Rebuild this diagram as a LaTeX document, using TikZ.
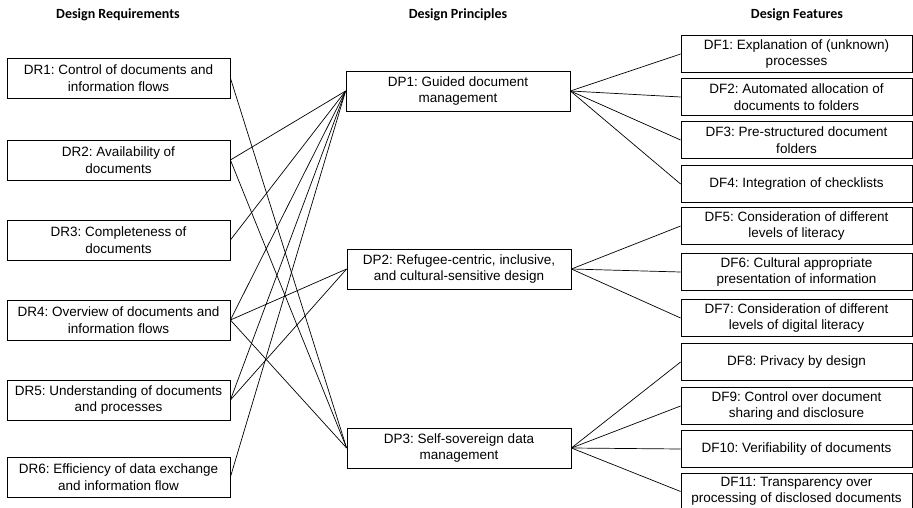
\documentclass[tikz,border=0pt]{standalone}
\usepackage{fontspec}
\setmainfont{Liberation Sans}
\newfontfamily\headfont{Carlito}
\usepackage{tikz}
\frenchspacing

\begin{document}
\begin{tikzpicture}[x=1pt, y=-1pt,
  title/.style={font=\headfont\bfseries\fontsize{14}{14}\selectfont},
  box/.style={rectangle, draw, line width=0.8pt, align=center, inner sep=0pt, font=\fontsize{13.5}{16.5}\selectfont},
  req/.style={box, minimum width=223pt, minimum height=40pt},
  prin/.style={box, minimum width=224pt, minimum height=40pt},
  feat/.style={box, minimum width=231pt, minimum height=37pt},
  link/.style={line width=0.7pt}]
\useasboundingbox (0, 0) rectangle (913, 508);

\node (t1) at (118, 15) [title] {Design Requirements};
\node (t2) at (458, 15) [title] {Design Principles};
\node (t3) at (797, 15) [title] {Design Features};

\node (dr1) at (118.5, 78) [req] {DR1: Control of documents and\\information flows};
\node (dr2) at (118.5, 160) [req] {DR2: Availability of\\documents};
\node (dr3) at (118.5, 240) [req] {DR3: Completeness of\\documents};
\node (dr4) at (118.5, 320) [req] {DR4: Overview of documents and\\information flows};
\node (dr5) at (118.5, 400) [req] {DR5: Understanding of documents\\and processes};
\node (dr6) at (118.5, 477) [req] {DR6: Efficiency of data exchange\\and information flow};

\node (dp1) at (458, 91) [prin] {DP1: Guided document\\management};
\node (dp2) at (459, 269) [prin] {DP2: Refugee-centric, inclusive,\\and cultural-sensitive design};
\node (dp3) at (459, 448) [prin] {DP3: Self-sovereign data\\management};

\node (df1) at (796.5, 54) [feat] {DF1: Explanation of (unknown)\\processes};
\node (df2) at (796.5, 97) [feat] {DF2: Automated allocation of\\documents to folders};
\node (df3) at (796.5, 140) [feat] {DF3: Pre-structured document\\folders};
\node (df4) at (796.5, 184) [feat] {DF4: Integration of checklists};
\node (df5) at (796.5, 226) [feat] {DF5: Consideration of different\\levels of literacy};
\node (df6) at (796.5, 272) [feat] {DF6: Cultural appropriate\\presentation of information};
\node (df7) at (796.5, 318) [feat] {DF7: Consideration of different\\levels of digital literacy};
\node (df8) at (796.5, 362) [feat] {DF8: Privacy by design};
\node (df9) at (796.5, 406) [feat] {DF9: Control over document\\sharing and disclosure};
\node (df10) at (796.5, 449) [feat] {DF10: Verifiability of documents};
\node (df11) at (796.5, 491.5) [feat] {DF11: Transparency over\\processing of disclosed documents};

\draw [link] (dr1.east) -- (dp3.west);
\draw [link] (dr2.east) -- (dp1.west);
\draw [link] (dr2.east) -- (dp3.west);
\draw [link] (dr3.east) -- (dp1.west);
\draw [link] (dr4.east) -- (dp1.west);
\draw [link] (dr4.east) -- (dp2.west);
\draw [link] (dr4.east) -- (dp3.west);
\draw [link] (dr5.east) -- (dp1.west);
\draw [link] (dr5.east) -- (dp2.west);
\draw [link] (dr6.east) -- (dp1.west);

\draw [link] (dp1.east) -- (df1.west);
\draw [link] (dp1.east) -- (df2.west);
\draw [link] (dp1.east) -- (df3.west);
\draw [link] (dp1.east) -- (df4.west);
\draw [link] (dp2.east) -- (df5.west);
\draw [link] (dp2.east) -- (df6.west);
\draw [link] (dp2.east) -- (df7.west);
\draw [link] (dp3.east) -- (df8.west);
\draw [link] (dp3.east) -- (df9.west);
\draw [link] (dp3.east) -- (df10.west);
\draw [link] (dp3.east) -- (df11.west);
\end{tikzpicture}
\end{document}
